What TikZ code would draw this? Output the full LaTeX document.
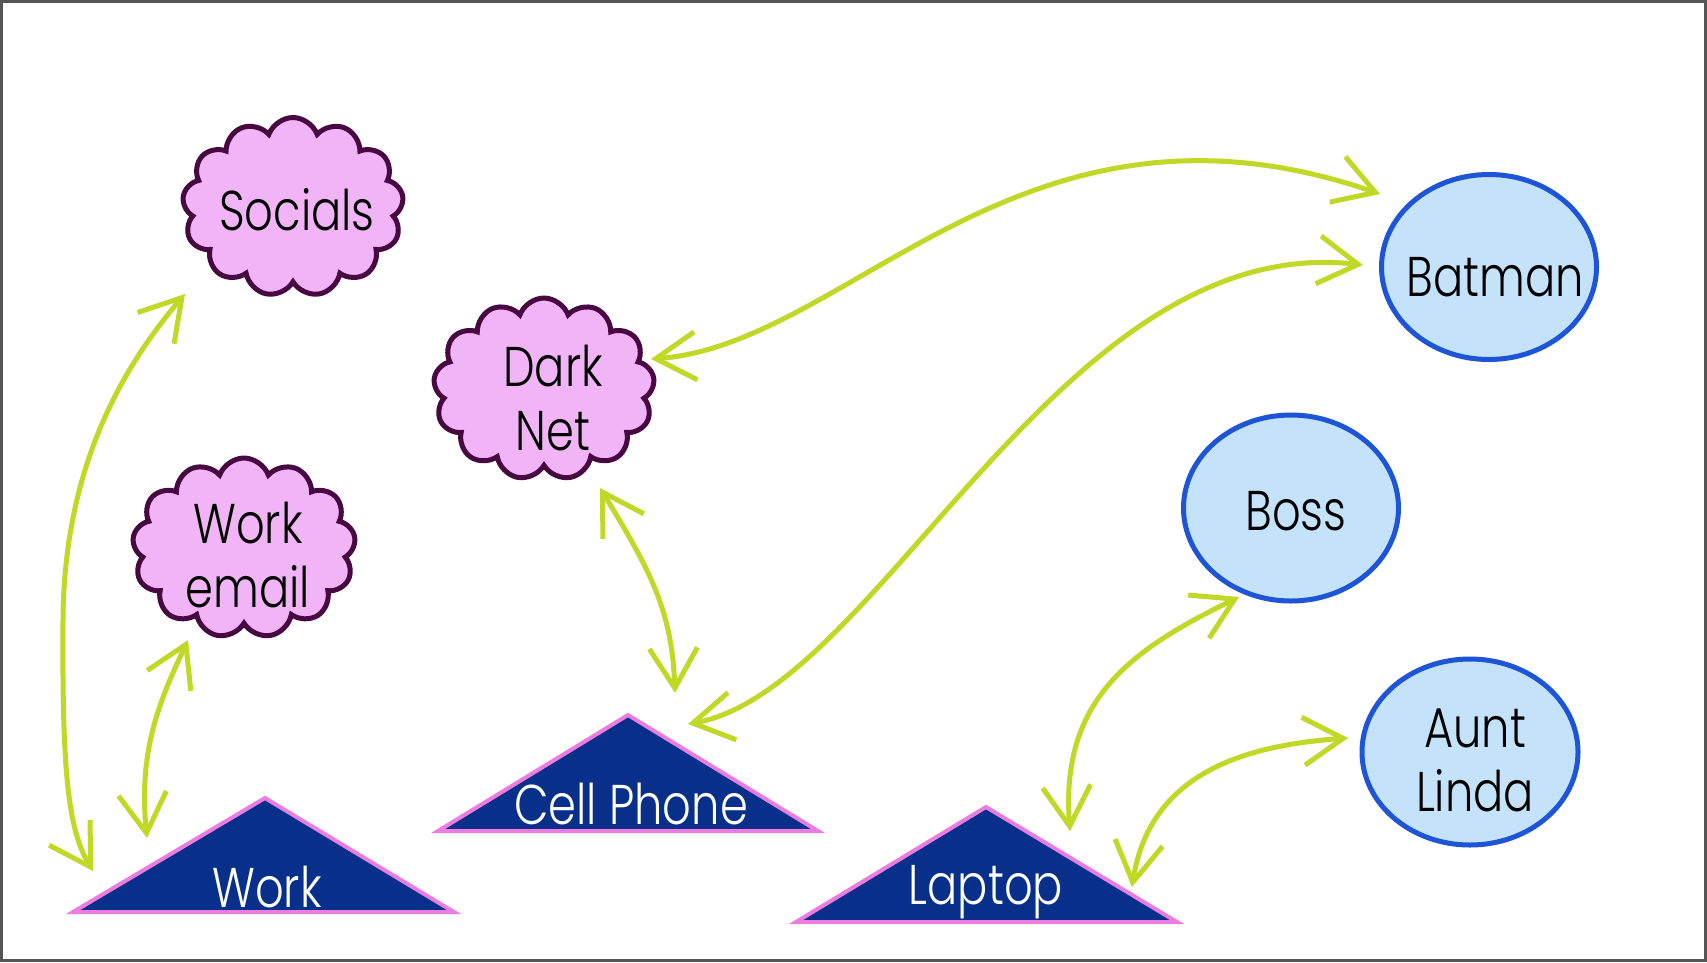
\documentclass[tikz,border=0pt]{standalone}
\usepackage{fontspec}
\setmainfont{Poppins Light}[FakeStretch=0.8]
\usetikzlibrary{shapes.symbols,shapes.geometric,arrows.meta}
\definecolor{lime}{RGB}{192,216,38}
\definecolor{cloudfill}{RGB}{241,180,246}
\definecolor{cloudline}{RGB}{72,8,66}
\definecolor{ellfill}{RGB}{196,227,250}
\definecolor{ellline}{RGB}{30,84,214}
\definecolor{trifill}{RGB}{8,48,138}
\definecolor{triline}{RGB}{235,125,225}
\definecolor{framegray}{RGB}{85,85,85}
\tikzset{
  cloudbox/.style={cloud, cloud puffs=13, cloud puff arc=140, cloud ignores aspect,
    draw=cloudline, fill=cloudfill, line width=5pt, inner sep=0pt,
    minimum width=#1},
  ellbox/.style={ellipse, draw=ellline, fill=ellfill, line width=5pt, inner sep=0pt},
  tribox/.style={draw=triline, fill=trifill, line width=4pt, line join=miter},
  lbl/.style={font=\fontsize{56}{64}\selectfont, inner sep=0pt, align=center, text=black},
  wlbl/.style={lbl, text=white},
  link/.style={draw=lime, line width=5pt, line cap=round, line join=round,
    {Straight Barb[length=40pt,width=48pt,line width=5pt]}-{Straight Barb[length=40pt,width=48pt,line width=5pt]}}
}
\begin{document}
\begin{tikzpicture}[x=1pt,y=-1pt]
\useasboundingbox (0,0) rectangle (1707,962);
\fill[white] (0,0) rectangle (1707,962);
\draw[framegray, line width=3pt] (1.5,1.5) rectangle (1705.5,960.5);

% clouds
\node[cloudbox=221pt, minimum height=179pt] (socials) at (293,207) {};
\node[cloudbox=221pt, minimum height=182pt] (darknet) at (544,389) {};
\node[cloudbox=223pt, minimum height=180pt] (workemail) at (244,548) {};
\node[lbl, anchor=base] (socialsT) at (297,230) {Socials};
\node[lbl] (darknetT) at (553,398) {Dark\\Net};
\node[lbl] (workemailT) at (248,555) {Work\\email};

% ellipses
\node[ellbox, minimum width=215pt, minimum height=185pt] (batman) at (1489,267) {};
\node[ellbox, minimum width=215pt, minimum height=186pt] (boss) at (1291,508) {};
\node[ellbox, minimum width=216pt, minimum height=186pt] (aunt) at (1470,752) {};
\node[lbl, anchor=base] (batmanT) at (1495,296) {Batman};
\node[lbl, anchor=base] (bossT) at (1296,530) {Boss};
\node[lbl] (auntT) at (1475,760) {Aunt\\Linda};

% triangles
\draw[tribox] (265,798) -- (454,912) -- (73,912) -- cycle;
\draw[tribox] (628,715) -- (818,831) -- (438,831) -- cycle;
\draw[tribox] (986,807) -- (1177,922) -- (796,922) -- cycle;
\node[wlbl, anchor=base] (work) at (267,907) {Work};
\node[wlbl, anchor=base] (cell) at (631,824) {Cell Phone};
\node[wlbl, anchor=base] (laptop) at (986,904) {Laptop};

% connector ends
\coordinate (sA) at (185,294);  \coordinate (wA) at (93,871);
\coordinate (eB) at (188,640);  \coordinate (wB) at (147,838);
\coordinate (dC) at (600,488);  \coordinate (cC) at (675,693);
\coordinate (dD) at (651,359);  \coordinate (bD) at (1380,194);
\coordinate (cE) at (688,724);  \coordinate (bE) at (1363,265);
\coordinate (bF) at (1239,597); \coordinate (lF) at (1070,831);
\coordinate (aG) at (1348,738); \coordinate (lG) at (1132,887);

% connectors
\draw[link] (sA) .. controls (120,370) and (64,470) .. (63,620) .. controls (62,770) and (68,830) .. (wA);
\draw[link] (eB) .. controls (160,700) and (138,750) .. (wB);
\draw[link] (dC) .. controls (650,570) and (672,610) .. (cC);
\draw[link] (dD) .. controls (850,345) and (1020,70) .. (bD);
\draw[link] (cE) .. controls (880,690) and (1060,230) .. (bE);
\draw[link] (bF) .. controls (1130,650) and (1060,700) .. (lF);
\draw[link] (aG) .. controls (1250,745) and (1150,770) .. (lG);
\end{tikzpicture}
\end{document}
